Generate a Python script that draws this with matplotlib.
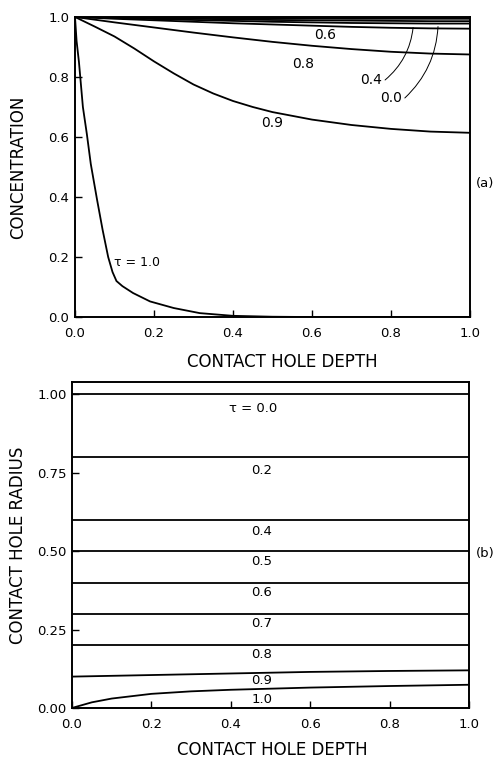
import matplotlib
matplotlib.use("Agg")
import matplotlib.pyplot as plt

# ---- panel (a): concentration vs depth ----
depth = [0.0, 0.1, 0.2, 0.3, 0.4, 0.5, 0.6, 0.7, 0.8, 0.9, 1.0]
conc_00 = [1.0, 1.0, 1.0, 1.0, 1.0, 1.0, 1.0, 1.0, 1.0, 1.0, 1.0]
conc_02 = [1.0, 0.999, 0.998, 0.997, 0.996, 0.995, 0.995, 0.994, 0.994, 0.994, 0.994]
conc_04 = [1.0, 0.998, 0.996, 0.994, 0.992, 0.990, 0.989, 0.988, 0.987, 0.986, 0.986]
conc_05 = [1.0, 0.997, 0.993, 0.990, 0.987, 0.984, 0.982, 0.980, 0.979, 0.978, 0.978]
conc_06 = [1.0, 0.994, 0.989, 0.984, 0.979, 0.975, 0.971, 0.967, 0.964, 0.962, 0.961]
conc_08 = [1.0, 0.982, 0.965, 0.948, 0.932, 0.917, 0.904, 0.893, 0.884, 0.878, 0.875]

depth_09 = [0.0, 0.05, 0.1, 0.15, 0.2, 0.25, 0.3, 0.35, 0.4, 0.45, 0.5, 0.6, 0.7, 0.8, 0.9, 1.0]
conc_09 = [1.0, 0.968, 0.935, 0.895, 0.852, 0.812, 0.775, 0.745, 0.72, 0.70, 0.683,
           0.658, 0.64, 0.627, 0.618, 0.614]

depth_10 = [0.0, 0.004, 0.01, 0.02, 0.03, 0.04, 0.056, 0.07, 0.084, 0.095, 0.105, 0.12,
            0.147, 0.19, 0.25, 0.316, 0.4, 0.5, 0.6, 1.0]
conc_10 = [1.0, 0.92, 0.85, 0.70, 0.61, 0.51, 0.39, 0.29, 0.20, 0.15, 0.12, 0.103,
           0.08, 0.052, 0.03, 0.013, 0.004, 0.001, 0.0, 0.0]

# ---- panel (b): radius vs depth ----
radius_levels = [1.0, 0.8, 0.6, 0.5, 0.4, 0.3, 0.2]
depth_b = [0.0, 0.2, 0.4, 0.6, 0.8, 1.0]
radius_09 = [0.10, 0.105, 0.11, 0.115, 0.118, 0.12]
depth_b10 = [0.0, 0.05, 0.1, 0.2, 0.3, 0.4, 0.6, 0.8, 1.0]
radius_10 = [0.0, 0.018, 0.03, 0.045, 0.053, 0.058, 0.065, 0.07, 0.074]

labels_b = ["τ = 0.0", "0.2", "0.4", "0.5", "0.6", "0.7", "0.8", "0.9", "1.0"]
label_b_y = [0.955, 0.757, 0.562, 0.466, 0.367, 0.268, 0.169, 0.086, 0.026]

plt.rcParams["font.family"] = ["DejaVu Sans"]
fig = plt.figure(figsize=(4.95, 7.61), dpi=100)

lw = 1.3
ax1 = fig.add_axes([0.1515, 0.5834, 0.798, 0.3943])
for c in [conc_00, conc_02, conc_04, conc_05, conc_06, conc_08]:
    ax1.plot(depth, c, color="black", lw=lw)
ax1.plot(depth_09, conc_09, color="black", lw=lw)
ax1.plot(depth_10, conc_10, color="black", lw=lw)
ax1.set_xlim(0, 1)
ax1.set_ylim(0, 1.0)
ax1.set_xticks([0, 0.2, 0.4, 0.6, 0.8, 1.0])
ax1.set_yticks([0, 0.2, 0.4, 0.6, 0.8, 1.0])
ax1.set_xticklabels(["0.0", "0.2", "0.4", "0.6", "0.8", "1.0"])
ax1.set_yticklabels(["0.0", "0.2", "0.4", "0.6", "0.8", "1.0"])
ax1.set_xlabel("CONTACT HOLE DEPTH", fontsize=12)
ax1.set_ylabel("CONCENTRATION", fontsize=12)
ax1.xaxis.set_label_coords(0.524, -0.12)
ax1.yaxis.set_label_coords(-0.122, 0.5)

ax1.text(0.633, 0.94, "0.6", fontsize=10, ha="center", va="center")
ax1.text(0.577, 0.843, "0.8", fontsize=10, ha="center", va="center")
ax1.text(0.50, 0.647, "0.9", fontsize=10, ha="center", va="center")
ax1.text(0.157, 0.183, "τ = 1.0", fontsize=9, ha="center", va="center")
ax1.text(0.777, 0.79, "0.4", fontsize=10, ha="right", va="center")
ax1.text(0.827, 0.73, "0.0", fontsize=10, ha="right", va="center")
leader = dict(arrowstyle="-", lw=0.7, shrinkA=0, shrinkB=0,
              connectionstyle="arc3,rad=0.2")
ax1.annotate("", xy=(0.856, 0.965), xytext=(0.785, 0.79), arrowprops=leader)
ax1.annotate("", xy=(0.919, 0.968), xytext=(0.835, 0.73), arrowprops=leader)

ax2 = fig.add_axes([0.1455, 0.0697, 0.802, 0.4284])
for r in radius_levels:
    ax2.plot([0, 1], [r, r], color="black", lw=lw)
ax2.plot(depth_b, radius_09, color="black", lw=lw)
ax2.plot(depth_b10, radius_10, color="black", lw=lw)
ax2.set_xlim(0, 1)
ax2.set_ylim(0, 1.04)
ax2.set_xticks([0, 0.2, 0.4, 0.6, 0.8, 1.0])
ax2.set_yticks([0, 0.25, 0.5, 0.75, 1.0])
ax2.set_xticklabels(["0.0", "0.2", "0.4", "0.6", "0.8", "1.0"])
ax2.set_yticklabels(["0.00", "0.25", "0.50", "0.75", "1.00"])
ax2.set_xlabel("CONTACT HOLE DEPTH", fontsize=12)
ax2.set_ylabel("CONTACT HOLE RADIUS", fontsize=12)
ax2.xaxis.set_label_coords(0.504, -0.102)
ax2.yaxis.set_label_coords(-0.113, 0.5)
for lab, y in zip(labels_b, label_b_y):
    xpos = 0.456 if lab.startswith("τ") else 0.478
    ax2.text(xpos, y, lab, fontsize=9.5, ha="center", va="center")

for ax in (ax1, ax2):
    for s in ax.spines.values():
        s.set_linewidth(1.4)
    ax.tick_params(direction="in", length=5, width=1.0, labelsize=9.5,
                   top=False, right=False)
    ax.tick_params(axis="x", pad=7)
    ax.tick_params(axis="y", pad=4)

fig.text(0.98, 0.7595, "(a)", fontsize=9.5, ha="center", va="center")
fig.text(0.98, 0.273, "(b)", fontsize=9.5, ha="center", va="center")

fig.savefig("out.png", dpi=100)
